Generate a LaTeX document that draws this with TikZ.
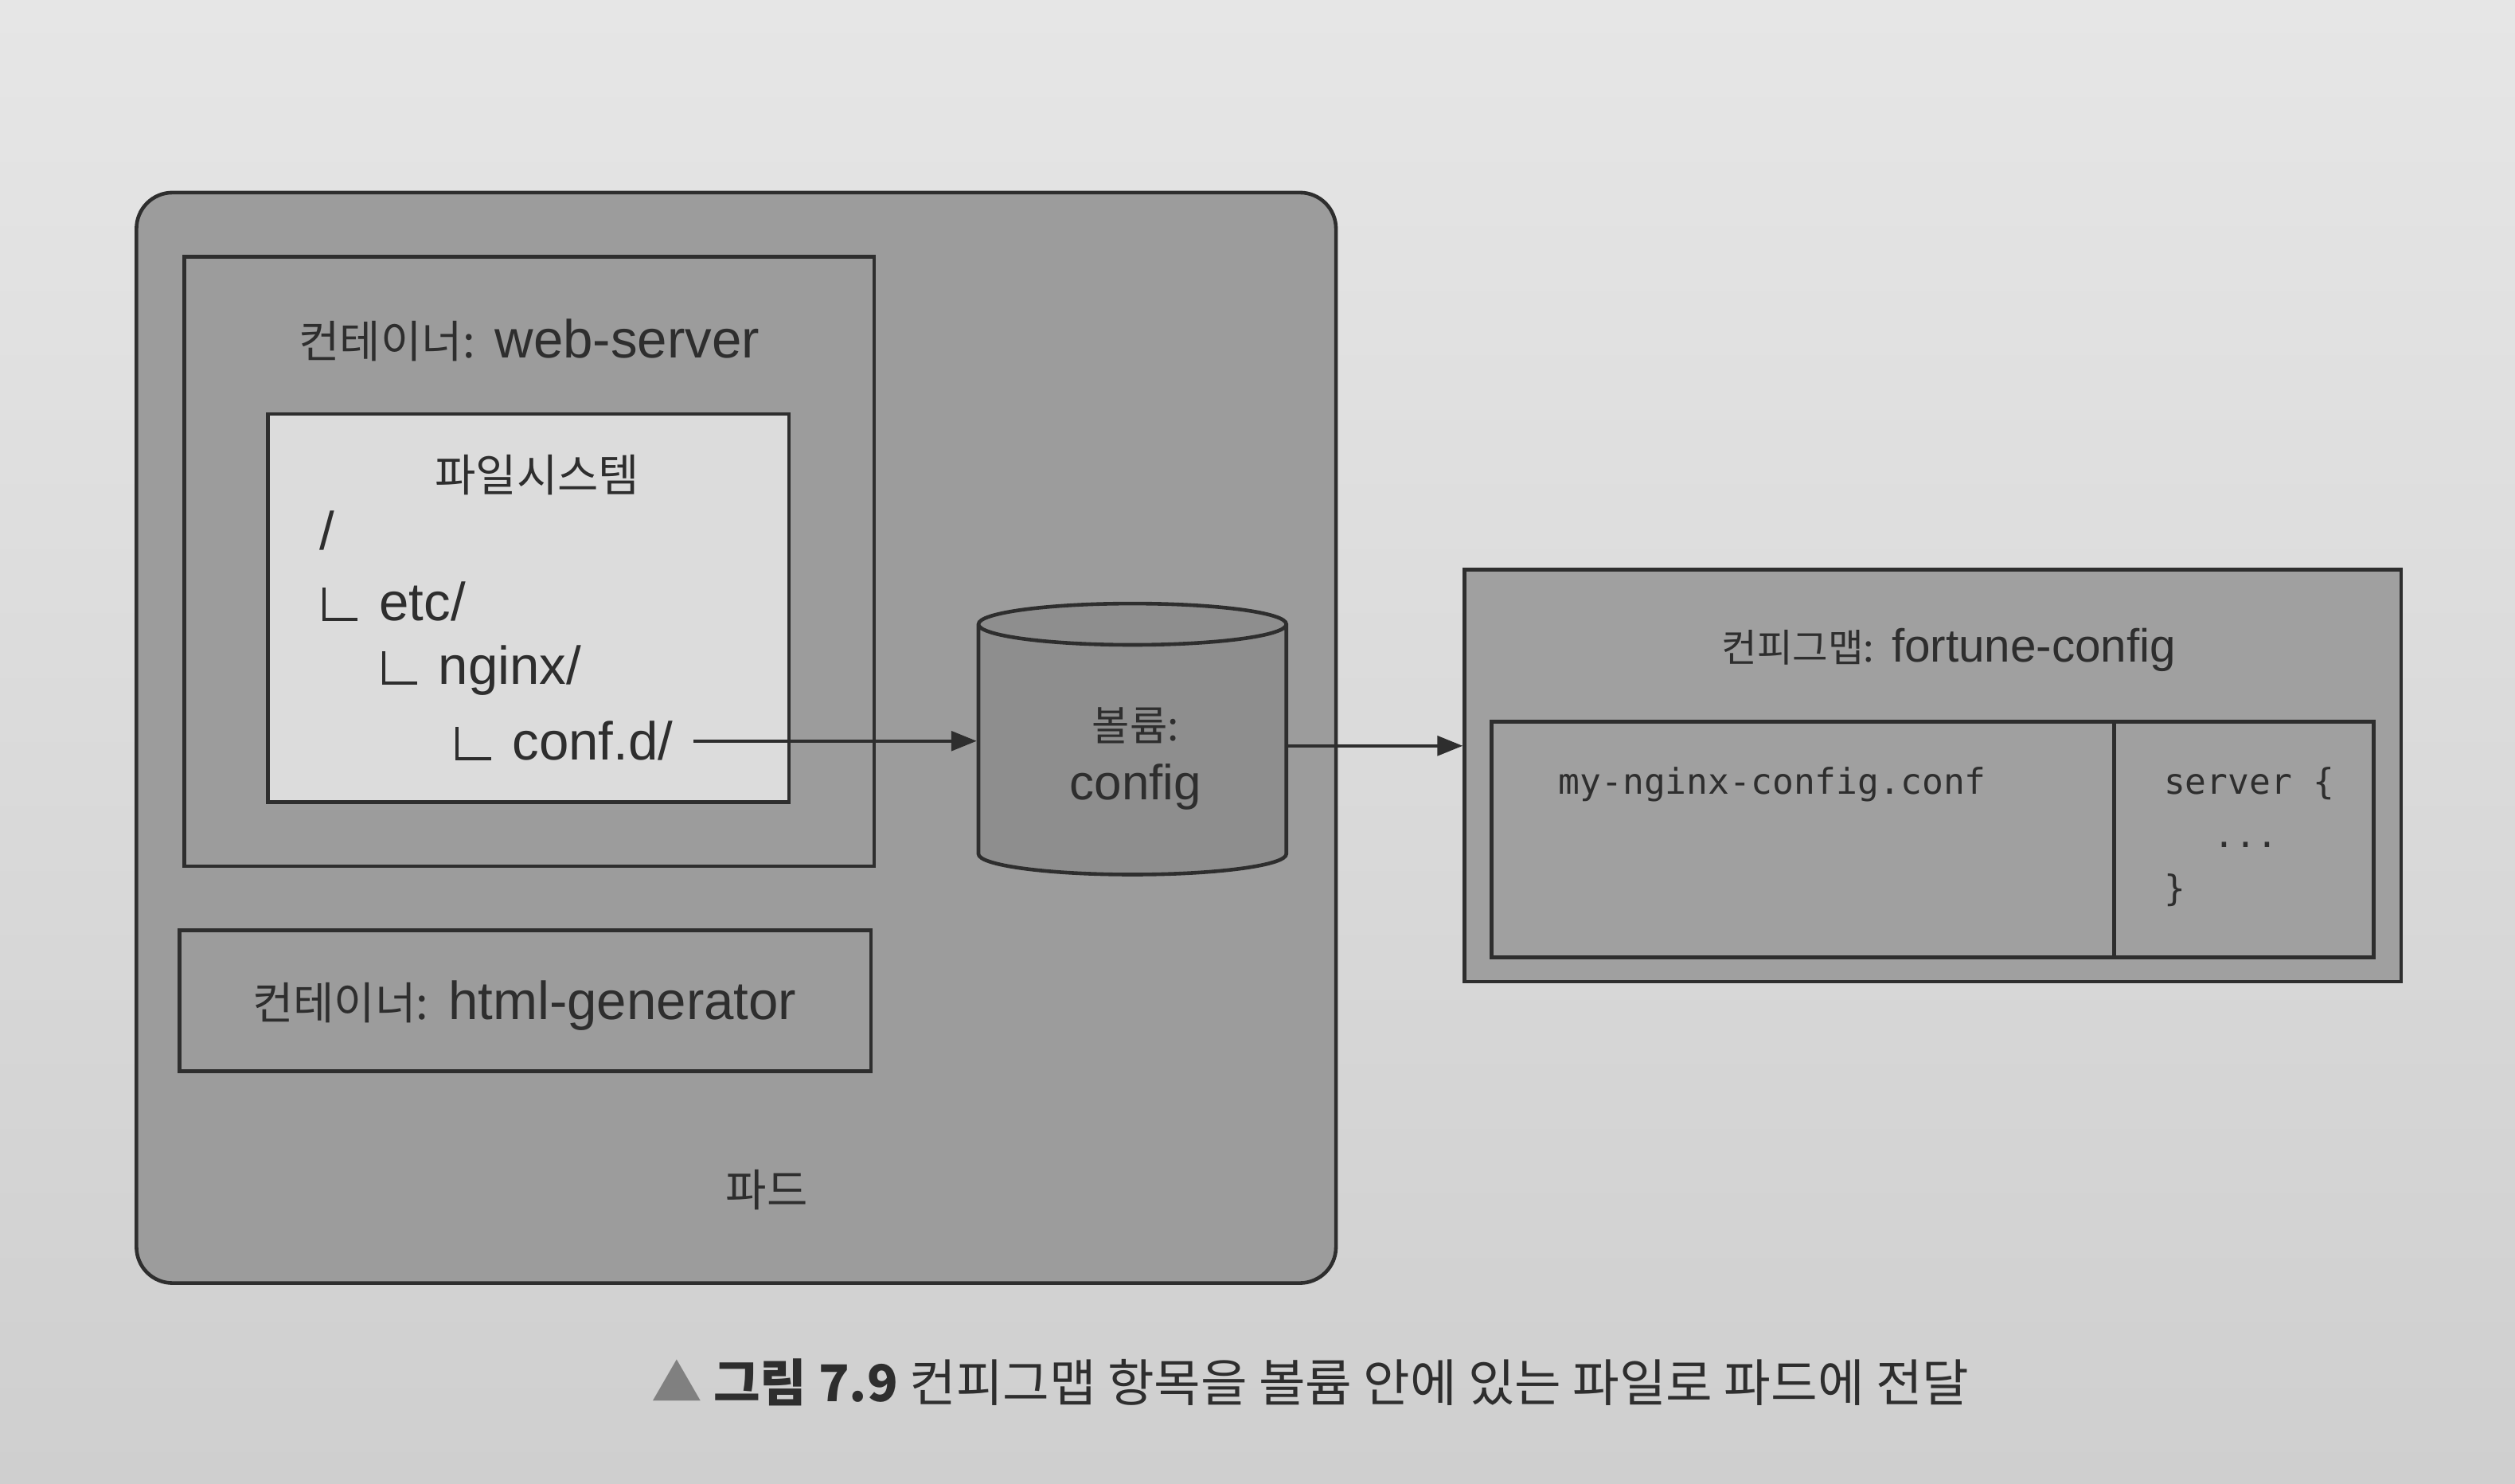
\documentclass[tikz,border=0pt]{standalone}
\usepackage{fontspec}
\setmainfont{Liberation Sans}
\newfontfamily\kr[Scale=0.83]{Noto Sans CJK KR}
\newfontfamily\krcap{Noto Sans CJK KR}
\newfontfamily\mono{DejaVu Sans Mono}
\usetikzlibrary{shapes.geometric, positioning, arrows.meta}
\definecolor{pagetop}{HTML}{E6E6E6}
\definecolor{pagebot}{HTML}{CFCFCF}
\definecolor{podgray}{HTML}{9C9C9C}
\definecolor{fsgray}{HTML}{DCDCDC}
\definecolor{volgray}{HTML}{8E8E8E}
\definecolor{cmgray}{HTML}{A0A0A0}
\definecolor{ink}{HTML}{2E2E2E}
\newcommand{\tree}{\rule{1.1pt}{0.62em}\rule{0.6em}{1.1pt}\hspace{0.4em}}

\begin{document}
\begin{tikzpicture}[x=0.02cm, y=-0.02cm,
    >={Triangle[length=9pt, width=7pt]},
    box/.style={draw=ink, line width=1.3pt, rectangle},
    lbl/.style={text=ink, font=\fontsize{19}{23}\selectfont, inner sep=1pt}]
    % page
    \shade[top color=pagetop, bottom color=pagebot] (0,0) rectangle (1568,925);
    \useasboundingbox (0,0) rectangle (1568,925);

    % pod
    \node[box, fill=podgray, rounded corners=0.45cm, minimum width=14.96cm, minimum height=13.6cm] (pod) at (459,460) {};
    \node[lbl] (podlbl) at (478,742) {\kr 파드};

    % container web-server with its file system
    \node[box, minimum width=8.6cm, minimum height=7.6cm] (web) at (330,350) {};
    \node[lbl] (weblbl) at (330,212) {{\kr 컨테이너:} web-server};
    \node[box, fill=fsgray, minimum width=6.5cm, minimum height=4.84cm] (fs) at (329.5,379) {};
    \node[lbl] (fslbl) at (335,296) {\kr 파일시스템};
    \node[lbl, anchor=west] (root) at (197,331) {/};
    \node[lbl, anchor=west] (etc) at (199,375) {\tree etc/};
    \node[lbl, anchor=west] (nginx) at (236,418) {\tree nginx/};
    \node[lbl, anchor=west] (confd) at (282,462) {\tree conf.d/};

    % container html-generator
    \node[box, minimum width=8.62cm, minimum height=1.76cm] (html) at (327.5,624) {};
    \node[lbl] (htmllbl) at (327,627) {{\kr 컨테이너:} html-generator};

    % volume
    \node[cylinder, shape border rotate=90, aspect=2.2, draw=ink, line width=1.3pt, fill=volgray,
          minimum width=3.84cm, minimum height=3.38cm] (vol) at (706,470) {};
    \node[lbl, align=center, font=\fontsize{17.5}{21}\selectfont] (vollbl) at (708,473) {{\kr 볼륨:}\\config};

    % config map
    \node[box, fill=cmgray, minimum width=11.68cm, minimum height=5.14cm] (cm) at (1205,483.5) {};
    \node[lbl, font=\fontsize{16.5}{20}\selectfont] (cmlbl) at (1215,405) {{\kr 컨피그맵:} fortune-config};
    \node[box, minimum width=7.76cm, minimum height=2.94cm] (key) at (1124,523.5) {};
    \node[box, minimum width=3.24cm, minimum height=2.94cm] (val) at (1399,523.5) {};
    \node[lbl, font=\fontsize{12.6}{19}\mono] (keytxt) at (1105,489) {my-nginx-config.conf};
    \node[lbl, anchor=north west, align=left, font=\fontsize{12.6}{19}\mono] (valtxt) at (1347,476)
        {server \{\\\hspace*{1.4em}...\\\}};

    \draw[->, ink, line width=1pt, shorten <=6pt] (confd.east) -- (confd.east -| vol.west);
    \draw[->, ink, line width=1pt, transform canvas={yshift=-0.06cm}] (vol.east |- confd.east) -- (confd.east -| cm.west);

    % caption
    \node[anchor=west, text=ink, font=\fontsize{18}{22}\krcap] (cap) at (400,862)
        {{\color{gray}▲}\ {\bfseries 그림 7.9} 컨피그맵 항목을 볼륨 안에 있는 파일로 파드에 전달};
\end{tikzpicture}
\end{document}
